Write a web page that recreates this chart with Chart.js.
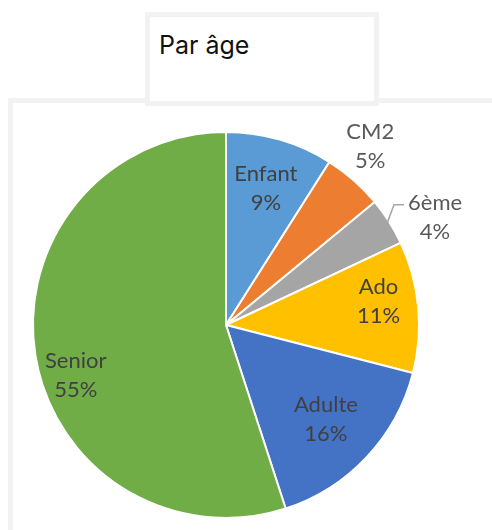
<!DOCTYPE html>
<html>
<head>
<meta charset="utf-8">
<script src="https://cdn.jsdelivr.net/npm/chart.js@4"></script>
<style>
  html, body { margin: 0; padding: 0; background: #fff; }
  body { width: 492px; height: 530px; position: relative; overflow: hidden; }
  #frame {
    position: absolute; left: 8px; top: 98px; width: 520px; height: 480px;
    border: 5px solid #f2f2f2; box-sizing: border-box;
  }
  #titlebox {
    position: absolute; left: 145px; top: 12px; width: 234px; height: 94px;
    border: 5px solid #f2f2f2; box-sizing: border-box; background: #fff;
  }
  #titlebox span {
    position: absolute; left: 9px; top: 13px;
    font: 25px Inter, "Noto Sans", sans-serif; color: #111;
  }
  #c { position: absolute; left: 0; top: 0; }
</style>
</head>
<body>
<div id="frame"></div>
<div id="titlebox"><span>Par âge</span></div>
<canvas id="c" width="492" height="530"></canvas>
<script>
const labels = ["Enfant", "CM2", "6ème", "Ado", "Adulte", "Senior"];
const values = [9, 5, 4, 11, 16, 55];
const colors = ["#5b9bd5", "#ed7d31", "#a5a5a5", "#ffc000", "#4472c4", "#70ad47"];

// label placement: radius factor, angle shift (deg), outside?
const labelPos = [
  { f: 0.74, a: 0, out: false },
  { f: 1.19, a: -2.5, out: true },
  { f: 1.22, a: 5, out: true, leader: true },
  { f: 0.80, a: -3.4, out: false },
  { f: 0.71, a: 0, out: false },
  { f: 0.82, a: -9.3, out: false }
];

const pieLabels = {
  id: "pieLabels",
  afterDatasetsDraw(chart) {
    const ctx = chart.ctx;
    const meta = chart.getDatasetMeta(0);
    const total = values.reduce((s, v) => s + v, 0);
    ctx.save();
    ctx.font = "22px Lato, sans-serif";
    ctx.textAlign = "center";
    ctx.textBaseline = "middle";
    meta.data.forEach((arc, i) => {
      const p = labelPos[i];
      const mid = (arc.startAngle + arc.endAngle) / 2;
      const ang = mid + p.a * Math.PI / 180;
      const r = arc.outerRadius * p.f;
      const x = arc.x + Math.cos(ang) * r;
      const y = arc.y + Math.sin(ang) * r;
      if (p.leader) {
        const sx = arc.x + Math.cos(mid) * arc.outerRadius * 0.99;
        const sy = arc.y + Math.sin(mid) * arc.outerRadius * 0.99;
        const tw = ctx.measureText(labels[i]).width;
        const ex = x - tw / 2 - 4;
        const ey = y - 12;
        ctx.strokeStyle = "#a6a6a6";
        ctx.lineWidth = 1.5;
        ctx.beginPath();
        ctx.moveTo(sx, sy);
        ctx.lineTo(ex - 10, ey);
        ctx.lineTo(ex, ey);
        ctx.stroke();
      }
      ctx.fillStyle = p.out ? "#595959" : "#404040";
      const pct = Math.round(values[i] / total * 100) + "%";
      ctx.fillText(labels[i], x, y - 14);
      ctx.fillText(pct, x, y + 15);
    });
    ctx.restore();
  }
};

new Chart(document.getElementById("c"), {
  type: "pie",
  data: {
    labels: labels,
    datasets: [{
      data: values,
      backgroundColor: colors,
      borderColor: "#ffffff",
      borderWidth: 2
    }]
  },
  options: {
    responsive: false,
    animation: false,
    layout: { padding: { left: 32, right: 72, top: 131, bottom: 11 } },
    plugins: {
      legend: { display: false },
      tooltip: { enabled: false },
      title: { display: false }
    }
  },
  plugins: [pieLabels]
});
</script>
</body>
</html>
